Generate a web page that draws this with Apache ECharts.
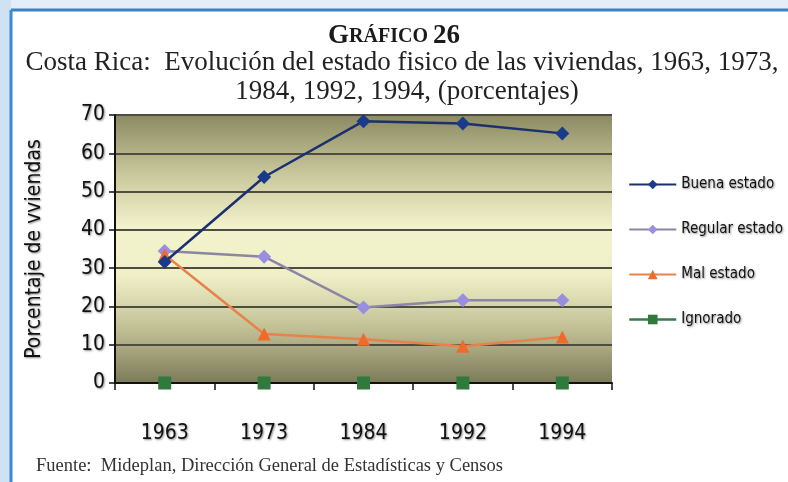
<!DOCTYPE html>
<html><head><meta charset="utf-8">
<script src="https://cdn.jsdelivr.net/npm/echarts@6/dist/echarts.min.js"></script>
<style>html,body{margin:0;padding:0;background:#fff}#c{width:788px;height:482px}</style>
</head><body><div id="c"></div>
<script>
const categories = ['1963','1973','1984','1992','1994'];
const buena = [31.6, 53.8, 68.4, 67.8, 65.2];
const regular = [34.5, 33.0, 19.7, 21.6, 21.6];
const mal = [33.5, 12.8, 11.4, 9.6, 12.0];
const ignorado = [0, 0, 0, 0, 0];
const seriesNames = ['Buena estado','Regular estado','Mal estado','Ignorado'];

const narrow = '"DejaVu Sans Condensed", "Liberation Sans Narrow", sans-serif';
const serif = '"Liberation Serif", "DejaVu Serif", serif';
const shadow = {textShadowColor:'rgba(0,0,0,0.45)', textShadowBlur:2, textShadowOffsetX:1, textShadowOffsetY:1};

const chart = echarts.init(document.getElementById('c'), null, {renderer:'canvas'});
chart.setOption({
  animation:false,
  backgroundColor:'#ffffff',
  graphic:[
    {type:'rect', shape:{x:0,y:0,width:788,height:10}, style:{fill:'#e4eef8'}, silent:true, z:-1},
    {type:'rect', shape:{x:0,y:0,width:11,height:482}, style:{fill:'#cfe2f4'}, silent:true, z:-1},
    {type:'line', shape:{x1:11,y1:10,x2:788,y2:10}, style:{stroke:'#3b7fc4', lineWidth:3}, silent:true},
    {type:'line', shape:{x1:11,y1:10,x2:11,y2:482}, style:{stroke:'#3b8ad8', lineWidth:3}, silent:true}
  ],
  title:[
    {text:'{a|G}{b|RÁFICO} {a|26}', left:'center', top:18,
     textStyle:{rich:{a:{fontFamily:serif,fontSize:27,fontWeight:'bold',color:'#1a1a1a'},b:{fontFamily:serif,fontSize:20,fontWeight:'bold',color:'#1a1a1a'}}}},
    {text:'Costa Rica:  Evolución del estado fisico de las viviendas, 1963, 1973,', left:397, textAlign:'center', top:44,
     textStyle:{fontFamily:serif,fontSize:27,fontWeight:'normal',color:'#222'}},
    {text:'1984, 1992, 1994, (porcentajes)', left:402, textAlign:'center', top:73,
     textStyle:{fontFamily:serif,fontSize:27,fontWeight:'normal',color:'#222'}},
    {text:'Fuente:  Mideplan, Dirección General de Estadísticas y Censos', left:31, top:452,
     textStyle:{fontFamily:serif,fontSize:18.5,fontWeight:'normal',color:'#333'}}
  ],
  legend:{
    orient:'vertical', left:623, top:172, itemGap:30, itemWidth:47, itemHeight:12,
    data:[seriesNames[0], seriesNames[1], seriesNames[2],
      {name:seriesNames[3], lineStyle:{color:'#3a7a4a', width:2.5, opacity:1}}],
    textStyle:Object.assign({fontFamily:narrow,fontSize:15,color:'#111'}, shadow)
  },
  grid:{left:115, right:176, top:115, bottom:99,
    show:true, borderWidth:0,
    backgroundColor:{type:'linear',x:0,y:0,x2:0,y2:1,colorStops:[
      {offset:0,color:'#8b8a62'},
      {offset:0.22,color:'#c9c89c'},
      {offset:0.42,color:'#f2f2cc'},
      {offset:0.6,color:'#f0f0c8'},
      {offset:0.8,color:'#c0bf94'},
      {offset:1,color:'#7c7b58'}]}
  },
  xAxis:{
    type:'category', data:categories, boundaryGap:true,
    axisLine:{lineStyle:{color:'#111',width:2}},
    axisTick:{show:true, length:7, lineStyle:{color:'#111',width:1.5}},
    axisLabel:Object.assign({fontFamily:narrow,fontSize:21,color:'#111',margin:40}, shadow)
  },
  yAxis:{
    type:'value', min:0, max:70, interval:10,
    name:'Porcentaje de vviendas', nameLocation:'middle', nameGap:70, nameRotate:90,
    nameTextStyle:Object.assign({fontFamily:narrow,fontSize:21,color:'#111'}, shadow),
    axisLine:{show:true, lineStyle:{color:'#111',width:2}},
    axisTick:{show:true, length:6, lineStyle:{color:'#111',width:1.5}},
    axisLabel:Object.assign({fontFamily:narrow,fontSize:21,color:'#111',margin:10}, shadow),
    splitLine:{show:true, lineStyle:{color:'#4d4d40',width:2}}
  },
  series:[
    {name:seriesNames[0], type:'line', data:buena, symbol:'diamond', symbolSize:14,
     lineStyle:{color:'#1c2f6e',width:2.5}, itemStyle:{color:'#1a3a8a'}, z:5},
    {name:seriesNames[1], type:'line', data:regular, symbol:'diamond', symbolSize:14,
     lineStyle:{color:'#8a86a4',width:2.5}, itemStyle:{color:'#9a8ee0'}, z:4},
    {name:seriesNames[2], type:'line', data:mal, symbol:'triangle', symbolSize:13,
     lineStyle:{color:'#e8824a',width:2.5}, itemStyle:{color:'#f06a2a'}, z:4},
    {name:seriesNames[3], type:'line', data:ignorado, symbol:'rect', symbolSize:13,
     lineStyle:{color:'#3a7a4a',width:0, opacity:0}, itemStyle:{color:'#2f7a3c'}, z:6}
  ]
});
</script></body></html>
